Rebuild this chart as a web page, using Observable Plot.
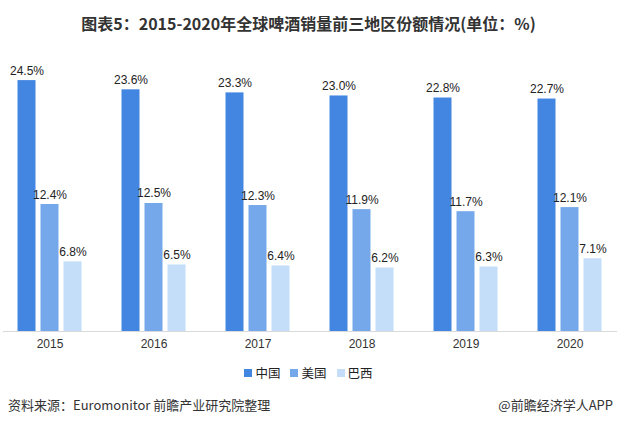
<!DOCTYPE html>
<html><head><meta charset="utf-8">
<script src="https://cdn.jsdelivr.net/npm/d3@7"></script>
<script src="https://cdn.jsdelivr.net/npm/@observablehq/plot@0.6"></script>
<style>
body{margin:0;width:617px;height:425px;position:relative;background:#fff;font-family:"Noto Sans CJK SC",sans-serif;overflow:hidden}
#title{position:absolute;top:12px;left:0;width:617px;text-align:center;font-weight:bold;font-size:16px;line-height:22px;color:#333}
#chart{position:absolute;top:40px;left:0}
#legend{position:absolute;top:364px;left:0;width:617px;display:flex;justify-content:center;gap:10px;font-size:12.5px;line-height:18px;color:#222}
#legend span.item{display:flex;align-items:center}
#legend span.sw{display:inline-block;width:8px;height:8px;margin-right:3px}
#src{position:absolute;top:396px;left:8px;font-size:13px;line-height:18px;color:#333}
#brand{position:absolute;top:396px;right:4px;font-size:13px;line-height:18px;color:#333}
</style></head>
<body>
<div id="title">图表5：2015-2020年全球啤酒销量前三地区份额情况(单位：%)</div>
<div id="chart"></div>
<div id="legend"></div>
<div id="src">资料来源：Euromonitor 前瞻产业研究院整理</div>
<div id="brand">@前瞻经济学人APP</div>
<script>
const years = ["2015","2016","2017","2018","2019","2020"];
const china = [24.5, 23.6, 23.3, 23.0, 22.8, 22.7];
const usa = [12.4, 12.5, 12.3, 11.9, 11.7, 12.1];
const brazil = [6.8, 6.5, 6.4, 6.2, 6.3, 7.1];
const seriesNames = ["中国", "美国", "巴西"];
const seriesKeys = ["china", "usa", "brazil"];
const seriesColors = ["#4286e1", "#75a8eb", "#c4ddf8"];

const data = years.map((y, i) => ({year: y, china: china[i], usa: usa[i], brazil: brazil[i]}));
const offsets = [-23, 0, 23];

const marks = [Plot.ruleY([0], {stroke: "#d9d9d9", strokeWidth: 1})];
seriesKeys.forEach((k, i) => {
  marks.push(Plot.barY(data, {x: "year", y: k, fill: seriesColors[i], dx: offsets[i], insetLeft: 25.5, insetRight: 25.5}));
  marks.push(Plot.text(data, {x: "year", y: k, text: d => d[k].toFixed(1) + "%", dx: offsets[i], dy: -6, lineAnchor: "bottom", fill: "#222", fontSize: 12}));
});

const chart = Plot.plot({
  width: 617,
  height: 321,
  marginLeft: 3,
  marginRight: 0,
  marginTop: 14.5,
  marginBottom: 30,
  style: {fontFamily: "'Liberation Sans', 'Noto Sans CJK SC', sans-serif", fontSize: "12px", color: "#333", background: "transparent"},
  x: {domain: years, paddingInner: 0.3365, paddingOuter: 0.12, label: null, tickSize: 0, tickPadding: 8},
  y: {domain: [0, 27], axis: null},
  marks
});
document.getElementById("chart").appendChild(chart);

const legend = document.getElementById("legend");
seriesNames.forEach((n, i) => {
  const it = document.createElement("span");
  it.className = "item";
  const sw = document.createElement("span");
  sw.className = "sw";
  sw.style.background = seriesColors[i];
  it.appendChild(sw);
  it.appendChild(document.createTextNode(n));
  legend.appendChild(it);
});
</script>
</body></html>
